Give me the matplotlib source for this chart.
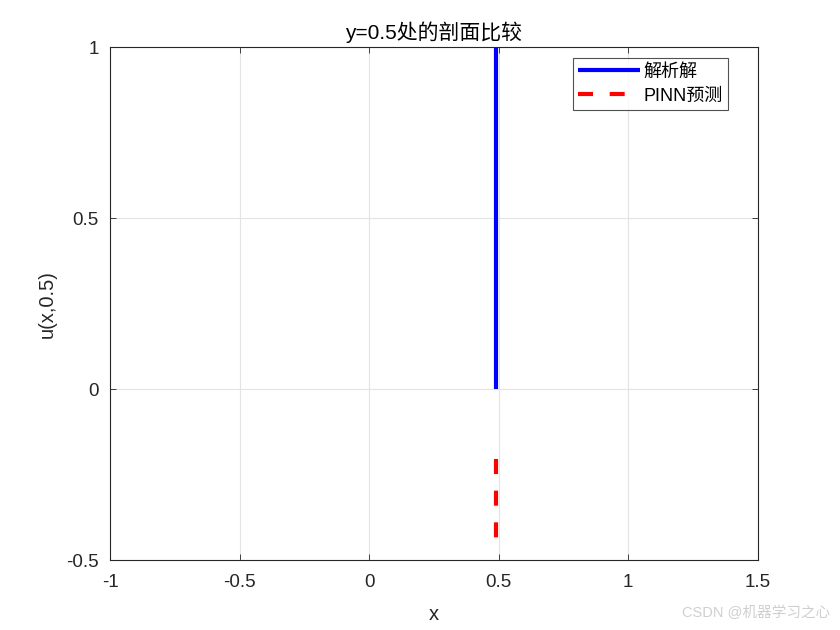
import numpy as np
import matplotlib.pyplot as plt

plt.rcParams['font.family'] = ['Liberation Sans', 'Noto Sans CJK SC', 'DejaVu Sans']

# profile at y=0.5
x_exact = [0.49, 0.49]
u_exact = [0.0, 1.0]
x_pinn = [0.49, 0.49]
u_pinn = [-0.205, -0.44]

xticks = [-1, -0.5, 0, 0.5, 1, 1.5]
yticks = [-0.5, 0, 0.5, 1]

fig = plt.figure(figsize=(8.4, 6.3), dpi=100)
ax = fig.add_axes([0.131, 0.111, 0.771, 0.814])

ax.plot(x_exact, u_exact, color='#0000ff', linewidth=3, solid_capstyle='butt', label='解析解')
ax.plot(x_pinn, u_pinn, color='#ff0000', linewidth=3, linestyle=(0, (3.6, 4.0)),
        dash_capstyle='butt', label='PINN预测')

ax.set_xlim(-1, 1.5)
ax.set_ylim(-0.5, 1)
ax.set_xticks(xticks)
ax.set_yticks(yticks)
ax.set_xticklabels(['-1', '-0.5', '0', '0.5', '1', '1.5'])
ax.set_yticklabels(['-0.5', '0', '0.5', '1'])
ax.tick_params(direction='in', top=True, right=True, labelsize=13.5, length=4,
               width=0.6, colors='#262626')
ax.tick_params(axis='x', pad=10)
ax.tick_params(axis='y', pad=8)
ax.grid(True, color='#e3e3e3', linewidth=0.8)
ax.set_axisbelow(True)
for s in ax.spines.values():
    s.set_color('#262626')
    s.set_linewidth(0.8)

ax.set_title('y=0.5处的剖面比较', fontsize=15, color='#000000', pad=6)
ax.set_xlabel('x', fontsize=14.5, color='#262626', labelpad=10)
ax.set_ylabel('u(x,0.5)', fontsize=14.5, color='#262626', labelpad=7)

leg = ax.legend(loc='upper right', bbox_to_anchor=(0.954, 0.979), fontsize=13,
                frameon=True, fancybox=False, edgecolor='#262626', handlelength=3.4,
                borderpad=0.3, labelspacing=0.4, handletextpad=0.2, borderaxespad=0)
leg.get_frame().set_linewidth(0.8)

fig.text(0.988, 0.027, 'CSDN @机器学习之心', ha='right', va='center', fontsize=10.5,
         color='#cfcfcf')

fig.savefig('out.png', dpi=100, facecolor='white')
